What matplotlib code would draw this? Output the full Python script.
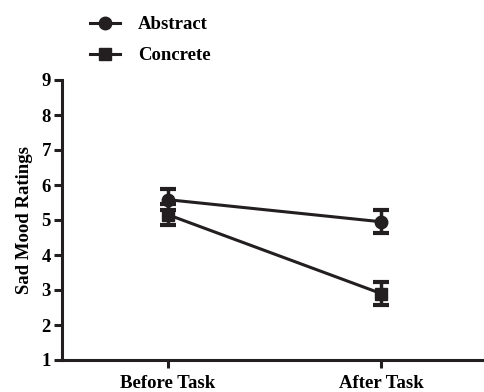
import matplotlib
matplotlib.use("Agg")
import matplotlib.pyplot as plt
from matplotlib.lines import Line2D

categories = ["Before Task", "After Task"]
abstract_mean = [5.58, 4.95]
abstract_err = [0.30, 0.33]
concrete_mean = [5.15, 2.90]
concrete_err = [0.30, 0.32]
yticks = [1, 2, 3, 4, 5, 6, 7, 8, 9]

plt.rcParams['font.family'] = ['Liberation Serif', 'DejaVu Serif']
plt.rcParams['font.weight'] = 'bold'

fs = 13.5
fig = plt.figure(figsize=(4.85, 3.92), dpi=100)
ax = fig.add_axes([62/485, 1-360/392, 423/485, (360-80)/392])

x = list(range(len(categories)))
col = '#231f20'
ax.errorbar(x, abstract_mean, yerr=abstract_err, color=col, lw=2.2, marker='o', ms=9,
            capsize=6, capthick=3, elinewidth=2.5, clip_on=False)
ax.errorbar(x, concrete_mean, yerr=concrete_err, color=col, lw=2.2, marker='s', ms=9,
            capsize=6, capthick=3, elinewidth=2.5, clip_on=False)

ax.set_xlim(-0.498, 1.488)
ax.set_ylim(1, 9)
ax.set_yticks(yticks)
ax.set_xticks(x)
ax.set_xticklabels(categories, fontsize=fs, fontweight='bold')
ax.set_yticklabels([str(v) for v in yticks], fontsize=fs, fontweight='bold')
ax.set_ylabel('Sad Mood Ratings', fontsize=fs, fontweight='bold', labelpad=6)
for s in ['top', 'right']:
    ax.spines[s].set_visible(False)
for s in ['left', 'bottom']:
    ax.spines[s].set_linewidth(2.2)
    ax.spines[s].set_color(col)
ax.tick_params(axis='y', width=2.2, length=6, color=col, pad=2)
ax.tick_params(axis='x', width=2.2, length=6, color=col, pad=5)

h1 = Line2D([], [], color=col, lw=2.2, marker='o', ms=9)
h2 = Line2D([], [], color=col, lw=2.2, marker='s', ms=9)
fig.legend(handles=[h1, h2], labels=['Abstract', 'Concrete'], loc='upper left',
           bbox_to_anchor=(73/485, 1.002), frameon=False,
           prop={'weight': 'bold', 'size': fs}, handlelength=1.6,
           labelspacing=0.75, handletextpad=0.95)

fig.savefig('out.png', dpi=100)
